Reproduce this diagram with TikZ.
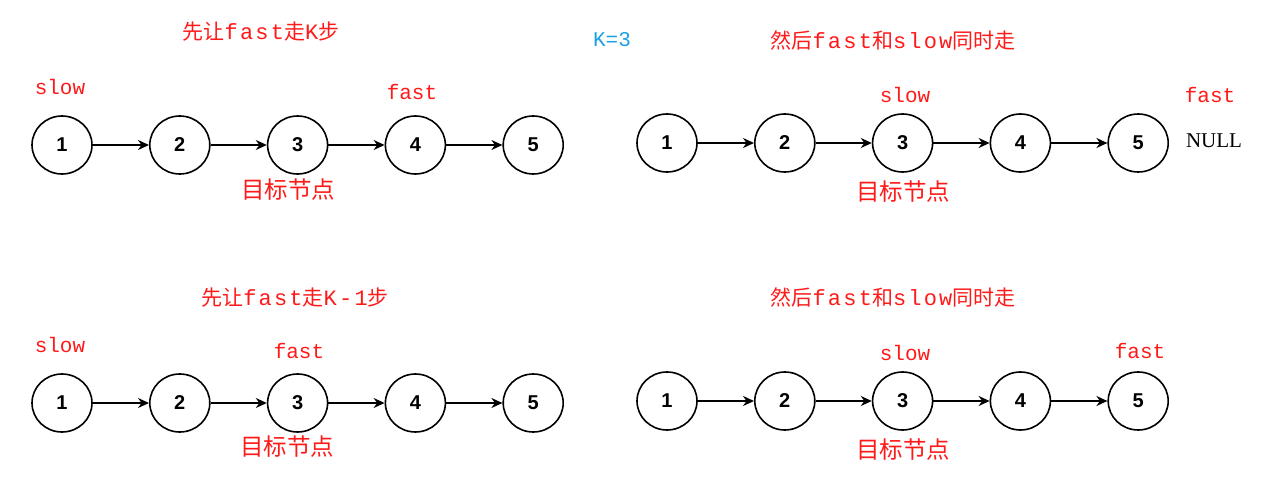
\documentclass[tikz,border=0pt]{standalone}
\usepackage{fontspec}
\setmainfont{Liberation Sans}
\newfontfamily\cjk{Noto Sans CJK SC}
\newfontfamily\mono{Liberation Mono}
\newfontfamily\widemono[LetterSpace=10]{Liberation Mono}
\newfontfamily\nullserif{Liberation Serif}
\definecolor{ptrred}{HTML}{FF1A1A}
\definecolor{kblue}{HTML}{1BA1E2}
\usetikzlibrary{arrows.meta, shapes.geometric, positioning}

\tikzset{
	listnode/.style={ellipse, draw=black, line width=1.6pt, minimum width=60pt,
		minimum height=58pt, inner sep=0pt, font=\fontsize{20}{20}\selectfont\bfseries},
	nextptr/.style={-{Stealth[length=11pt,width=10pt]}, line width=1.5pt},
	ptr/.style={text=ptrred, font=\fontsize{21}{21}\selectfont\mono},
	title/.style={text=ptrred, font=\fontsize{22}{22}\selectfont\widemono},
	target/.style={text=ptrred, font=\fontsize{23.5}{23.5}\selectfont\cjk}
}
\newcommand{\zh}[1]{{\fontsize{21}{21}\selectfont\cjk #1}}

\begin{document}
\begin{tikzpicture}[x=1pt, y=-1pt]
	\useasboundingbox (0,0) rectangle (1286,492);

	% fast goes K steps first
	\node[listnode] (a1) at (62,145) {1};
	\node[listnode, right=56.2pt of a1] (a2) {2};
	\node[listnode, right=56.2pt of a2] (a3) {3};
	\node[listnode, right=56.2pt of a3] (a4) {4};
	\node[listnode, right=56.2pt of a4] (a5) {5};
	\draw[nextptr] (a1) -- (a2);
	\draw[nextptr] (a2) -- (a3);
	\draw[nextptr] (a3) -- (a4);
	\draw[nextptr] (a4) -- (a5);
	\node[title] (titleA) at (261,32) {\zh{先让}fast\zh{走}K\zh{步}};
	\node[ptr] (slowA) at (60,87) {slow};
	\node[ptr] (fastA) at (412,92) {fast};
	\node[target] (targetA) at (288,190) {目标节点};

	% then both move together
	\node[listnode] (b1) at (667,143) {1};
	\node[listnode, right=56.2pt of b1] (b2) {2};
	\node[listnode, right=56.2pt of b2] (b3) {3};
	\node[listnode, right=56.2pt of b3] (b4) {4};
	\node[listnode, right=56.2pt of b4] (b5) {5};
	\draw[nextptr] (b1) -- (b2);
	\draw[nextptr] (b2) -- (b3);
	\draw[nextptr] (b3) -- (b4);
	\draw[nextptr] (b4) -- (b5);
	\node[text=kblue, font=\fontsize{21}{21}\selectfont\mono] (kval) at (612,40) {K=3};
	\node[title] (titleB) at (893,40) {\zh{然后}fast\zh{和}slow\zh{同时走}};
	\node[ptr] (slowB) at (905,95) {slow};
	\node[ptr] (fastB) at (1210,95) {fast};
	\node[font=\fontsize{21}{21}\selectfont\nullserif] (nullB) at (1214,141) {NULL};
	\node[target] (targetB) at (903,192) {目标节点};

	% fast goes K-1 steps first
	\node[listnode] (c1) at (62,403) {1};
	\node[listnode, right=56.2pt of c1] (c2) {2};
	\node[listnode, right=56.2pt of c2] (c3) {3};
	\node[listnode, right=56.2pt of c3] (c4) {4};
	\node[listnode, right=56.2pt of c4] (c5) {5};
	\draw[nextptr] (c1) -- (c2);
	\draw[nextptr] (c2) -- (c3);
	\draw[nextptr] (c3) -- (c4);
	\draw[nextptr] (c4) -- (c5);
	\node[title] (titleC) at (295,298) {\zh{先让}fast\zh{走}K-1\zh{步}};
	\node[ptr] (slowC) at (60,345) {slow};
	\node[ptr] (fastC) at (299,351) {fast};
	\node[target] (targetC) at (287,447) {目标节点};

	% then both move together
	\node[listnode] (d1) at (667,401) {1};
	\node[listnode, right=56.2pt of d1] (d2) {2};
	\node[listnode, right=56.2pt of d2] (d3) {3};
	\node[listnode, right=56.2pt of d3] (d4) {4};
	\node[listnode, right=56.2pt of d4] (d5) {5};
	\draw[nextptr] (d1) -- (d2);
	\draw[nextptr] (d2) -- (d3);
	\draw[nextptr] (d3) -- (d4);
	\draw[nextptr] (d4) -- (d5);
	\node[title] (titleD) at (893,297) {\zh{然后}fast\zh{和}slow\zh{同时走}};
	\node[ptr] (slowD) at (905,353) {slow};
	\node[ptr] (fastD) at (1140,351) {fast};
	\node[target] (targetD) at (903,450) {目标节点};
\end{tikzpicture}
\end{document}
